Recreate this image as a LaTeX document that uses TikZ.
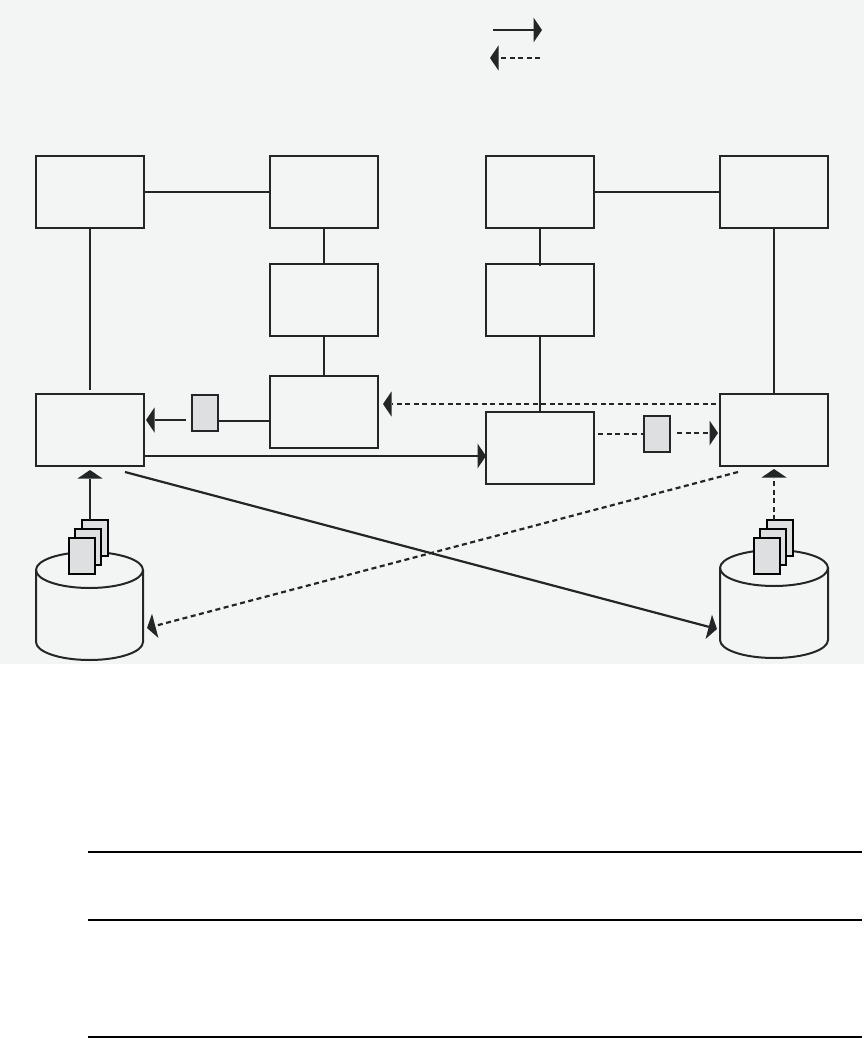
\documentclass[tikz,border=0pt]{standalone}
\usetikzlibrary{arrows.meta}
\definecolor{panel}{HTML}{F3F5F4}
\definecolor{ink}{HTML}{222626}
\definecolor{chip}{HTML}{DEDFE1}
\tikzset{
  box/.style={draw=ink,line width=2.2pt,minimum width=108pt,minimum height=72pt,inner sep=0pt,outer sep=0pt},
  chipbox/.style={draw=ink,line width=2.2pt,fill=chip,minimum width=26pt,minimum height=36pt,inner sep=0pt,outer sep=0pt},
  docbox/.style={draw=black!90!ink,line width=2.2pt,fill=chip,minimum width=26pt,minimum height=36pt,inner sep=0pt,outer sep=0pt},
  link/.style={draw=ink,line width=2.2pt},
  dotlink/.style={link,dash pattern=on 5pt off 3.5pt},
  head/.style={-{Triangle[length=8.5pt,width=25pt,line width=0pt,fill=ink]}},
  rulebar/.style={draw=black,line width=2.2pt},
  drum/.style={draw=ink,line width=2pt}
}
\begin{document}
\begin{tikzpicture}[x=1pt,y=-1pt]
\useasboundingbox (0,0) rectangle (864,1038);
\fill[panel] (0,0) rectangle (864,664);

% legend
\coordinate (l1a) at (493,30); \coordinate (l1b) at (542,30);
\coordinate (l2a) at (540,58); \coordinate (l2b) at (490,58);
\draw[link,head] (l1a) -- (l1b);
\draw[dotlink,head] (l2a) -- (l2b);

% boxes
\node[box] (a1) at (90,192) {};
\node[box] (a2) at (324,192) {};
\node[box] (a3) at (540,192) {};
\node[box] (a4) at (774,192) {};
\node[box] (b2) at (324,300) {};
\node[box] (b3) at (540,300) {};
\node[box] (c1) at (90,430) {};
\node[box] (c2) at (324,412) {};
\node[box] (c3) at (540,448) {};
\node[box] (c4) at (774,430) {};
\node[chipbox] (s1) at (205,413) {};
\node[chipbox] (s2) at (657,434) {};

% plain links
\draw[link] (a1.east) -- (a2.west);
\draw[link] (a3.east) -- (a4.west);
\draw[link] (a2.south) -- (b2.north);
\draw[link] (b2.south) -- (c2.north);
\coordinate (b3top) at (540,266);
\draw[link] (a3.south) -- (b3top);
\draw[link] (b3.south) -- (c3.north);
\coordinate (c1top) at (90,390);
\draw[link] (a1.south) -- (c1top);
\draw[link] (a4.south) -- (c4.north);

% c2 -> s1 -> c1
\coordinate (c2l) at (269,421); \coordinate (s1r) at (218,421);
\draw[link] (c2l) -- (s1r);
\coordinate (s1l) at (186,420); \coordinate (c1r) at (146,420);
\draw[link,head] (s1l) -- (c1r);

% c1 -> c3
\coordinate (c1o) at (144,456); \coordinate (c3i) at (486,456);
\draw[link,head] (c1o) -- (c3i);

% c4 -> c2 dashed
\coordinate (c4o) at (716,404); \coordinate (c2i) at (383,404);
\draw[dotlink,head] (c4o) -- (c2i);

% c3 -> s2 -> c4 dashed
\coordinate (c3o) at (598,434); \coordinate (s2l) at (644,434);
\draw[dotlink] (c3o) -- (s2l);
\coordinate (s2r) at (677,433); \coordinate (c4i) at (718,433);
\draw[dotlink,head] (s2r) -- (c4i);

% cylinders
\draw[drum] (36,570) -- (36,642) arc[start angle=180,end angle=360,x radius=53.5,y radius=-18] -- (143,570);
\draw[drum] (89.5,570) ellipse[x radius=53.5,y radius=18];
\draw[drum] (720,568) -- (720,640) arc[start angle=180,end angle=360,x radius=54,y radius=-18] -- (828,568);
\draw[drum] (774,568) ellipse[x radius=54,y radius=18];

% document stacks
\node[docbox] (d13) at (95,538) {};
\node[docbox] (d12) at (88,547) {};
\node[docbox] (d11) at (82,556) {};
\node[docbox] (d23) at (780,538) {};
\node[docbox] (d22) at (773,547) {};
\node[docbox] (d21) at (767,556) {};

% upward arrows
\coordinate (u1a) at (90,520); \coordinate (u1b) at (90,470);
\draw[link,head] (u1a) -- (u1b);
\coordinate (u2a) at (774,520); \coordinate (u2b) at (774,469);
\draw[dotlink,head] (u2a) -- (u2b);

% diagonals
\coordinate (x1a) at (125,472); \coordinate (x1b) at (717,629);
\draw[link,head] (x1a) -- (x1b);
\coordinate (x2a) at (738,472); \coordinate (x2b) at (147,628);
\draw[dotlink,head] (x2a) -- (x2b);

% rules
\coordinate (r1a) at (88,852); \coordinate (r1b) at (862,852);
\coordinate (r2a) at (88,920); \coordinate (r2b) at (862,920);
\coordinate (r3a) at (88,1037); \coordinate (r3b) at (862,1037);
\draw[rulebar] (r1a) -- (r1b);
\draw[rulebar] (r2a) -- (r2b);
\draw[rulebar] (r3a) -- (r3b);
\end{tikzpicture}
\end{document}
